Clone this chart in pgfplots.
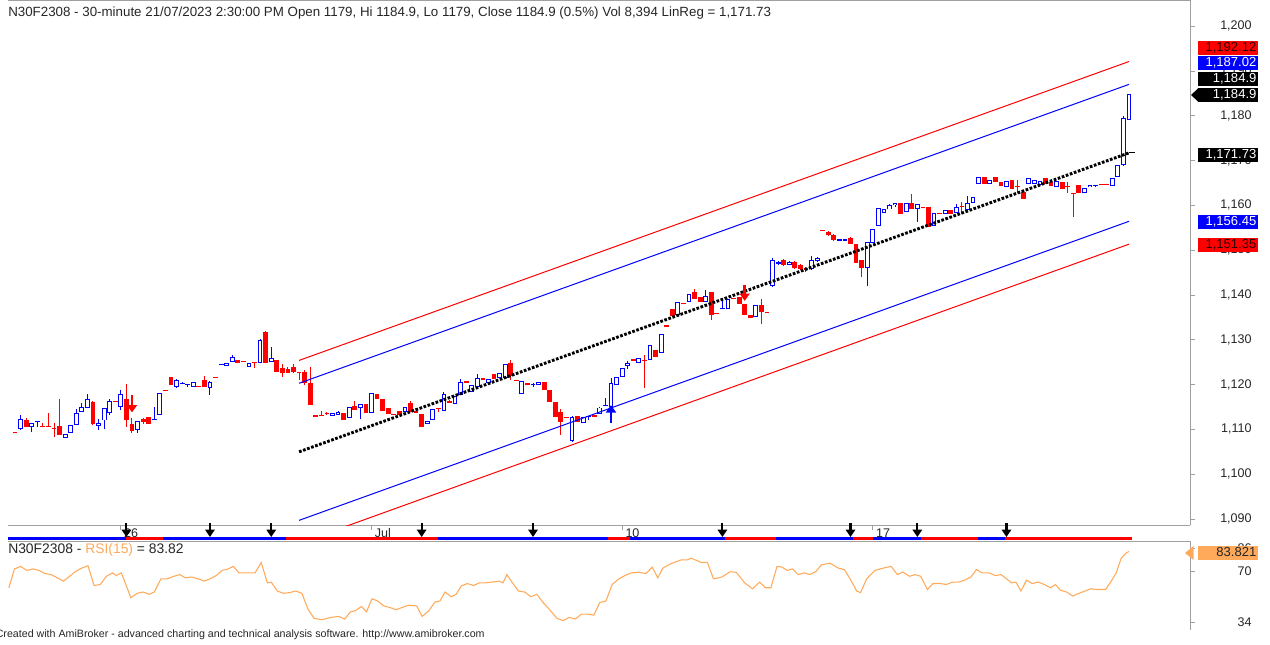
\documentclass[border=0pt]{standalone}
\usepackage{pgfplots}
\pgfplotsset{compat=1.18}
\usepackage{pgfplotstable}
\usepackage{fontspec}
\setmainfont{Liberation Sans}
\usetikzlibrary{arrows.meta}

\definecolor{cBlue}{RGB}{0,0,255}
\definecolor{cRed}{RGB}{255,0,0}
\definecolor{axgray}{RGB}{160,160,160}
\definecolor{rsiorange}{RGB}{255,170,90}

% i open high low close dir(1=up/blue,0=down/red)
\pgfplotstableread{
i o h l c d
0 1109.3 1109.4 1109.2 1109.3 0
1 1110.1 1113.2 1109.9 1112.3 1
2 1112.1 1112.5 1110.5 1110.6 0
3 1110.6 1111.5 1109.5 1111.4 1
4 1111.6 1111.9 1110.6 1111.9 1
5 1110.8 1111.4 1110.5 1110.5 0
6 1110.8 1113.6 1110.6 1110.7 0
7 1110.3 1111.4 1108.4 1110.2 0
8 1110.8 1116.7 1108.7 1108.8 0
9 1108.2 1108.9 1108.1 1108.9 1
10 1109.3 1111.0 1109.3 1111.0 1
11 1111.0 1114.5 1111.0 1113.7 1
12 1113.9 1115.8 1113.9 1114.9 1
13 1114.9 1118.0 1114.9 1116.8 1
14 1116.2 1116.3 1110.9 1111.2 0
15 1110.8 1112.3 1109.9 1111.4 1
16 1112.0 1114.7 1110.0 1114.7 1
17 1113.6 1116.7 1113.2 1116.4 1
18 1116.3 1116.3 1116.1 1116.2 0
19 1115.1 1118.9 1114.3 1117.9 1
20 1116.7 1120.1 1110.6 1112.1 0
21 1111.1 1112.5 1109.3 1109.7 0
22 1109.9 1111.9 1109.1 1111.9 1
23 1112.3 1112.5 1111.3 1111.7 0
24 1112.8 1112.8 1111.2 1111.2 0
25 1112.0 1115.1 1112.0 1112.3 1
26 1113.2 1118.2 1113.2 1118.2 1
27 1118.7 1118.7 1118.5 1118.6 0
28 1121.6 1121.6 1119.9 1119.9 0
29 1119.5 1121.2 1119.3 1121.0 1
30 1120.1 1120.6 1120.1 1120.2 1
31 1119.9 1120.1 1119.4 1120.1 1
32 1119.5 1120.6 1119.5 1120.6 1
33 1119.6 1119.6 1119.4 1119.5 0
34 1121.0 1121.9 1119.5 1119.5 0
35 1119.3 1120.7 1117.7 1120.5 1
36 1121.7 1121.7 1121.5 1121.6 0
37 1124.4 1124.6 1124.4 1124.5 1
38 1124.2 1124.9 1124.2 1124.9 1
39 1125.1 1126.7 1125.1 1126.1 1
40 1125.6 1125.6 1124.9 1124.9 0
41 1125.2 1125.2 1125.0 1125.1 0
42 1124.0 1124.9 1124.0 1124.9 1
43 1125.1 1125.1 1123.6 1124.9 0
44 1124.8 1130.2 1124.8 1130.0 1
45 1131.8 1131.9 1124.9 1124.9 0
46 1125.1 1128.5 1125.1 1125.9 1
47 1125.6 1125.6 1122.9 1122.9 0
48 1123.6 1124.5 1121.8 1122.5 0
49 1123.4 1124.0 1122.5 1122.7 0
50 1124.0 1124.5 1122.5 1122.9 0
51 1122.9 1122.9 1121.0 1122.5 0
52 1122.9 1123.3 1119.9 1120.3 0
53 1120.3 1124.0 1115.4 1115.4 0
54 1113.0 1113.1 1112.9 1113.0 0
55 1113.1 1114.0 1113.0 1113.0 0
56 1113.5 1113.9 1113.3 1113.4 0
57 1113.0 1113.6 1113.0 1113.6 1
58 1113.2 1114.0 1113.2 1114.0 1
59 1113.7 1113.7 1112.1 1112.1 0
60 1112.5 1114.9 1112.5 1114.9 1
61 1115.2 1116.3 1114.3 1114.3 0
62 1114.7 1115.7 1112.3 1115.7 1
63 1115.7 1115.7 1113.7 1113.7 0
64 1113.7 1118.1 1113.7 1118.1 1
65 1117.9 1117.9 1116.8 1116.8 0
66 1116.8 1116.8 1114.2 1114.2 0
67 1114.7 1114.7 1113.4 1113.4 0
68 1113.4 1113.5 1113.3 1113.4 0
69 1114.2 1114.2 1113.2 1113.2 0
70 1113.9 1114.9 1113.9 1114.9 1
71 1116.0 1116.3 1113.9 1113.9 0
72 1113.9 1114.0 1113.8 1113.9 0
73 1113.4 1113.4 1110.6 1110.6 0
74 1111.2 1111.9 1111.2 1111.9 1
75 1112.1 1114.5 1112.1 1114.5 1
76 1114.7 1114.7 1113.8 1114.5 0
77 1114.2 1118.4 1114.2 1117.9 1
78 1116.4 1116.6 1115.8 1115.8 0
79 1115.7 1117.4 1115.7 1117.4 1
80 1117.7 1121.2 1117.7 1120.6 1
81 1120.6 1120.7 1120.5 1120.6 0
82 1118.3 1119.9 1118.3 1119.9 1
83 1119.5 1122.3 1119.5 1121.4 1
84 1121.4 1121.5 1121.0 1121.0 0
85 1120.4 1121.2 1120.4 1121.2 1
86 1122.3 1122.3 1121.2 1121.2 0
87 1121.5 1122.5 1121.5 1122.5 1
88 1121.4 1124.6 1121.4 1124.6 1
89 1124.8 1125.5 1121.0 1121.9 0
90 1121.0 1121.0 1120.8 1120.9 0
91 1117.9 1120.9 1117.9 1120.9 1
92 1120.3 1120.3 1119.9 1119.9 0
93 1119.9 1120.3 1119.5 1120.0 1
94 1119.9 1120.6 1119.9 1120.6 1
95 1120.6 1120.6 1118.8 1118.8 0
96 1118.8 1118.8 1116.2 1116.2 0
97 1116.2 1116.2 1112.7 1112.7 0
98 1113.9 1114.6 1108.8 1111.7 0
99 1112.7 1112.8 1112.6 1112.7 0
100 1107.5 1112.9 1107.3 1112.7 1
101 1113.0 1113.0 1111.7 1111.7 0
102 1111.5 1112.8 1111.5 1112.8 1
103 1112.7 1113.0 1112.2 1113.0 1
104 1113.2 1113.2 1112.7 1112.7 0
105 1113.4 1114.9 1113.4 1114.9 1
106 1115.3 1117.0 1115.3 1115.5 1
107 1115.1 1121.5 1115.1 1120.3 1
108 1120.0 1121.6 1120.0 1121.6 1
109 1121.8 1123.7 1121.8 1123.7 1
110 1124.2 1125.2 1123.5 1124.9 1
111 1125.5 1125.6 1125.4 1125.5 0
112 1124.9 1125.9 1124.9 1125.9 1
113 1125.6 1126.6 1119.2 1125.3 0
114 1125.5 1128.9 1125.5 1128.9 1
115 1127.7 1127.7 1126.1 1126.1 0
116 1127.1 1131.3 1127.1 1131.3 1
117 1133.1 1133.2 1133.0 1133.1 0
118 1136.8 1136.8 1135.3 1135.3 0
119 1135.5 1138.5 1135.5 1138.5 1
120 1138.3 1138.3 1137.9 1137.9 0
121 1138.5 1140.2 1138.5 1140.2 1
122 1140.7 1141.3 1139.2 1139.2 0
123 1139.6 1139.6 1138.5 1138.5 0
124 1138.5 1141.1 1138.5 1139.8 1
125 1140.6 1140.6 1134.4 1135.5 0
126 1135.8 1135.9 1135.7 1135.8 0
127 1136.8 1139.0 1136.8 1137.0 1
128 1136.8 1139.0 1136.8 1139.0 1
129 1139.2 1139.3 1139.1 1139.2 0
130 1139.5 1139.5 1138.1 1138.1 0
131 1138.1 1138.1 1135.5 1135.5 0
132 1135.5 1135.5 1134.8 1134.8 0
133 1135.0 1137.8 1135.0 1137.8 1
134 1137.8 1139.2 1133.5 1136.1 0
135 1136.1 1136.2 1136.0 1136.1 0
136 1142.0 1148.2 1141.8 1147.8 1
137 1146.9 1147.6 1146.7 1147.3 1
138 1147.8 1148.0 1146.5 1146.7 0
139 1146.8 1147.5 1146.6 1147.3 1
140 1147.4 1147.5 1145.8 1146.0 0
141 1146.6 1147.0 1145.5 1145.8 0
142 1146.0 1146.2 1145.2 1145.7 0
143 1145.8 1148.8 1145.6 1147.9 1
144 1147.6 1148.4 1147.4 1148.2 1
145 1154.5 1154.6 1154.3 1154.4 0
146 1154.0 1154.2 1153.2 1153.4 0
147 1153.5 1153.6 1152.0 1152.3 0
148 1152.1 1152.6 1152.0 1152.5 1
149 1152.1 1152.6 1152.0 1152.5 1
150 1152.7 1152.9 1151.4 1151.4 0
151 1151.4 1151.4 1147.2 1147.2 0
152 1147.8 1147.8 1144.1 1146.0 0
153 1146.0 1151.9 1142.0 1151.9 1
154 1151.7 1154.7 1151.7 1154.7 1
155 1155.4 1159.4 1155.4 1159.4 1
156 1158.4 1159.1 1158.4 1159.1 1
157 1159.1 1160.4 1159.1 1160.1 1
158 1160.1 1160.6 1159.6 1160.6 1
159 1160.6 1160.6 1158.1 1158.1 0
160 1158.6 1160.6 1158.6 1160.6 1
161 1160.6 1162.5 1159.1 1159.1 0
162 1159.1 1160.3 1156.4 1160.3 1
163 1159.6 1159.7 1159.5 1159.6 0
164 1159.6 1159.6 1155.3 1155.3 0
165 1155.4 1158.4 1155.4 1158.4 1
166 1158.2 1158.3 1158.1 1158.2 0
167 1158.1 1158.9 1158.1 1158.9 1
168 1158.9 1158.9 1158.2 1158.2 0
169 1158.4 1160.3 1158.4 1159.7 1
170 1159.8 1160.7 1158.0 1159.6 0
171 1158.9 1162.0 1158.9 1160.5 1
172 1160.5 1161.8 1160.5 1161.8 1
173 1164.8 1166.3 1164.8 1166.3 1
174 1166.3 1166.3 1164.8 1164.8 0
175 1164.8 1165.7 1164.8 1165.7 1
176 1166.3 1166.3 1165.3 1165.3 0
177 1165.3 1165.3 1164.3 1164.3 0
178 1164.2 1165.5 1164.2 1165.5 1
179 1165.7 1165.7 1163.6 1163.6 0
180 1164.3 1165.7 1162.7 1164.2 0
181 1163.1 1163.1 1161.4 1161.4 0
182 1164.8 1166.1 1164.8 1166.1 1
183 1164.8 1165.7 1164.8 1165.7 1
184 1164.6 1165.5 1164.6 1165.5 1
185 1166.1 1166.1 1164.8 1164.8 0
186 1165.3 1165.3 1164.3 1164.3 0
187 1164.2 1165.5 1164.2 1165.5 1
188 1165.3 1165.3 1163.6 1163.6 0
189 1164.3 1165.3 1162.7 1164.2 0
190 1162.7 1162.8 1157.5 1162.5 0
191 1164.6 1164.6 1162.7 1162.7 0
192 1162.7 1163.9 1162.7 1163.9 1
193 1164.1 1164.6 1164.1 1164.6 1
194 1164.4 1164.6 1164.0 1164.6 1
195 1164.6 1164.7 1164.5 1164.6 0
196 1164.7 1164.7 1164.5 1164.6 0
197 1164.3 1166.1 1164.3 1166.1 1
198 1166.4 1169.0 1166.4 1169.0 1
199 1169.0 1180.0 1168.8 1179.4 1
200 1179.0 1184.9 1179.0 1184.9 1
}\ohlc

% red stretches of the bottom ribbon (bar units)
\pgfplotstableread{
a b
20 26.6
48.7 76
106.5 110.4
127.5 136.6
150.4 154
162.7 172.9
177.7 200.5
}\ribbonred

\begin{document}
\begin{tikzpicture}
\useasboundingbox (0,0) rectangle (952.5pt,-483pt);

% ---------------- main price pane ----------------
\begin{axis}[
  at={(6pt,0pt)}, anchor=north west,
  scale only axis, width=886.5pt, height=393.75pt,
  xmin=-1.26, xmax=210.95, ymin=1088.66, ymax=1205.85,
  axis x line=box, axis y line=right,
  axis line style={axgray, line width=0.75pt, -},
  tick style={axgray, line width=0.75pt},
  major tick length=3.75pt, tick align=outside,
  ytick={1090,1100,...,1200}, scaled y ticks=false,
  /pgf/number format/assume math mode=true,
  yticklabel style={/pgf/number format/1000 sep={,}, /pgf/number format/fixed,
     anchor=east, xshift=46pt, font=\fontsize{9.4}{11}\selectfont, text=black!85},
  xtick={19,64,109,154}, xticklabels={26,Jul,10,17},
  xtick pos=lower,
  xticklabel style={anchor=north west, xshift=-1pt, yshift=4.5pt, font=\fontsize{9.4}{11}\selectfont, text=black!85},
]
% wicks (segment from low to high)
\addplot[cRed, line width=0.75pt, mark=none, quiver={u=0, v={(1-\thisrow{d})*(\thisrow{h}-\thisrow{l})}}]
  table[x=i, y=l] {\ohlc};
\addplot[cBlue, line width=0.75pt, mark=none, quiver={u=0, v={\thisrow{d}*(\thisrow{h}-\thisrow{l})}}]
  table[x=i, y=l] {\ohlc};
% bodies (segment from open to close, at least one pixel tall)
\addplot[cRed, line width=3.6pt, mark=none, quiver={u=0, v={(1-\thisrow{d})*max(abs(\thisrow{c}-\thisrow{o}),0.24)}}]
  table[x=i, y expr={(\thisrow{o}+\thisrow{c})/2-max(abs(\thisrow{c}-\thisrow{o}),0.24)/2}] {\ohlc};
\addplot[cBlue, line width=3.6pt, mark=none, quiver={u=0, v={\thisrow{d}*max(abs(\thisrow{c}-\thisrow{o}),0.24)}}]
  table[x=i, y expr={(\thisrow{o}+\thisrow{c})/2-max(abs(\thisrow{c}-\thisrow{o}),0.24)/2}] {\ohlc};
% hollow inside of the up candles
\addplot[white, line width=2.1pt, mark=none, quiver={u=0, v={\thisrow{d}*max(abs(\thisrow{c}-\thisrow{o})-0.44,0)}}]
  table[x=i, y expr={(\thisrow{o}+\thisrow{c})/2-max(abs(\thisrow{c}-\thisrow{o})-0.44,0)/2}] {\ohlc};

% regression channel
\addplot[cRed, line width=0.75pt] coordinates {(51,1125.4) (200,1192.12)};
\addplot[cBlue, line width=0.75pt] coordinates {(51,1120.3) (200,1187.02)};
\addplot[cBlue, line width=0.75pt] coordinates {(51,1089.7) (200,1156.45)};
\addplot[cRed, line width=0.75pt] coordinates {(51,1084.6) (200,1151.35)};
\addplot[black, line width=2.2pt, dash pattern=on 2pt off 1.2pt] coordinates {(51,1105.0) (200,1171.73)};
\addplot[black, line width=0.75pt] coordinates {(200,1171.73) (201,1171.73)};

% buy / sell arrows
\addplot[cRed, line width=2.2pt, -{Triangle[width=7.5pt,length=5.5pt]}, quiver={u=0,v=-3.8}] coordinates {(21,1117.6)};
\addplot[cRed, line width=2.2pt, -{Triangle[width=7.5pt,length=5.5pt]}, quiver={u=0,v=-3.6}] coordinates {(131,1142.3)};
\addplot[cBlue, line width=2.2pt, -{Triangle[width=7.5pt,length=5.5pt]}, quiver={u=0,v=3.9}] coordinates {(107,1111.5)};
\end{axis}

% ---------------- ribbon strip ----------------
\begin{axis}[
  at={(6pt,-393.75pt)}, anchor=north west,
  scale only axis, width=886.5pt, height=12pt,
  xmin=-1.26, xmax=210.95, ymin=0, ymax=16,
  hide axis, clip=false,
]
\addplot[cBlue, line width=2.3pt] coordinates {(-1.3,2.3) (200.5,2.3)};
\addplot[cRed, line width=2.3pt, mark=none, quiver={u={\thisrow{b}-\thisrow{a}}, v=0}]
  table[x=a, y expr={2.3}] {\ribbonred};
\addplot[black, line width=1.6pt, -{Triangle[width=7pt,length=5.5pt]}, quiver={u=0,v=-14}]
  coordinates {(20,18) (35,18) (46,18) (73,18) (93,18) (127,18) (150,18) (162,18) (178,18)};
\end{axis}

% ---------------- RSI pane ----------------
\begin{axis}[
  at={(6pt,-405.75pt)}, anchor=north west,
  scale only axis, width=886.5pt, height=66.75pt,
  xmin=-1.26, xmax=210.95, ymin=28.4, ymax=91.2,
  axis x line=top, axis y line=right,
  axis line style={axgray, line width=0.75pt, -},
  tick style={axgray, line width=0.75pt},
  major tick length=3.75pt, tick align=outside,
  xtick=\empty, ytick={34,70,86},
  /pgf/number format/assume math mode=true,
  yticklabel style={anchor=east, xshift=46pt, font=\fontsize{9.4}{11}\selectfont, text=black!85},
]
\addplot[rsiorange, line width=0.8pt] coordinates {
(-1.1,58.2)(-0.1,71.5)(1.0,73.3)(2.1,70.5)(3.2,71.5)(4.3,70.5)(5.4,68.2)(6.5,67.5)(7.6,65.2)(8.7,62.9)
(9.8,66.3)(10.9,69.8)(12.0,72.1)(13.1,73.8)(14.2,59.8)(15.3,60.5)(16.4,66.3)(17.5,68.7)(18.2,66.8)(19.1,68.7)
(20.8,51.2)(21.9,54.3)(23.0,55.2)(24.1,53.6)(25.0,55.2)(26.2,64.5)(27.3,64.5)(28.5,66.3)(29.6,67.5)(30.6,65.2)
(31.7,65.8)(32.9,64.5)(34.0,62.9)(35.0,64.5)(36.1,66.8)(37.2,70.5)(38.3,71.5)(39.2,73.3)(40.2,68.7)(41.3,68.7)
(43.1,68.7)(44.2,76.1)(45.3,61.7)(46.0,62.2)(47.1,55.9)(48.2,54.3)(49.3,54.8)(50.4,55.9)(51.5,54.3)(52.6,43.1)
(53.7,36.6)(55.2,35.7)(56.7,37.3)(58.1,38.0)(59.2,36.1)(60.2,41.2)(61.1,42.0)(62.2,45.0)(63.1,41.2)(64.1,50.5)
(65.1,48.9)(66.2,45.4)(67.3,44.3)(68.4,42.7)(69.5,44.3)(70.6,45.9)(72.1,45.4)(73.1,38.0)(74.3,42.0)(75.4,48.2)
(76.3,48.9)(77.2,55.2)(78.3,51.9)(79.2,53.6)(80.1,59.4)(81.2,61.2)(82.3,59.8)(83.4,61.7)(84.5,61.7)(85.6,62.2)
(86.9,62.9)(87.6,61.7)(88.3,67.5)(89.3,61.7)(90.4,55.9)(91.5,55.2)(92.6,51.9)(93.7,53.6)(94.8,47.8)(95.9,43.1)
(97.3,36.6)(98.4,35.0)(99.5,37.3)(100.6,36.1)(101.7,39.6)(102.8,39.6)(103.9,38.9)(105.0,47.8)(106.1,48.9)(107.2,60.5)
(108.4,64.5)(109.5,66.8)(110.6,68.7)(112.0,69.2)(113.3,68.2)(114.4,72.8)(115.4,65.2)(116.3,72.1)(117.7,75.1)(119.6,77.9)
(120.7,77.9)(121.4,79.1)(123.2,76.1)(124.3,76.1)(125.4,64.5)(126.9,65.8)(128.4,69.5)(129.5,69.1)(131.0,61.7)(132.4,57.5)
(133.7,62.2)(134.7,58.2)(135.7,58.2)(136.8,73.3)(137.7,72.8)(138.6,70.5)(139.6,71.5)(140.6,67.5)(141.6,68.7)(142.7,67.5)
(143.8,69.8)(144.8,74.4)(146.3,75.6)(147.8,72.1)(148.9,71.0)(150.0,64.1)(151.1,55.9)(151.8,54.8)(152.9,64.5)(154.4,70.5)
(155.9,72.1)(157.3,73.3)(158.4,67.5)(159.4,69.3)(160.6,66.3)(161.6,67.5)(162.6,66.3)(163.8,57.0)(164.8,61.2)(166.1,61.2)
(167.2,60.5)(168.3,62.2)(169.4,62.2)(170.5,63.6)(171.6,65.8)(172.6,71.0)(173.6,68.7)(174.9,68.7)(176.0,66.8)(177.0,67.5)
(177.8,65.2)(178.9,61.7)(179.7,62.2)(180.6,55.9)(181.6,63.6)(182.6,61.2)(183.7,62.2)(184.8,60.5)(185.9,58.2)(186.8,60.5)
(187.7,56.4)(188.8,55.2)(189.9,52.4)(191.0,54.3)(192.1,55.9)(193.1,57.5)(194.3,57.0)(195.8,57.0)(196.8,62.9)(197.7,68.7)
(198.6,79.1)(199.6,83.0)(200,83.82)};
\end{axis}

% ---------------- texts and value tags (pixel grid) ----------------
\begin{scope}[x=0.75pt, y=-0.75pt, every node/.style={font=\fontsize{10}{12}\selectfont, inner sep=0pt}]
\node[anchor=west, text=black!85] at (8,13) {N30F2308 - 30-minute 21/07/2023 2:30:00 PM Open 1179, Hi 1184.9, Lo 1179, Close 1184.9 (0.5\%) Vol 8,394 LinReg = 1,171.73};
\node[anchor=west, text=black!85, font=\fontsize{10.4}{12}\selectfont] at (8,550) {N30F2308 - \textcolor{rsiorange}{RSI(15)} = 83.82};
\node[anchor=west, text=black!85, font=\fontsize{8}{10}\selectfont] at (-4.5,635) {Created with AmiBroker - advanced charting and technical analysis software. http://www.amibroker.com};

\tikzset{tag/.style={anchor=east, text width=43pt, align=right, inner xsep=1pt, minimum height=10.5pt, text height=6.8pt, text depth=1.6pt, font=\fontsize{9.8}{11}\selectfont}}
\node[tag, fill=cRed, text=black!80!red] at (1258,48) {1,192.12};
\node[tag, fill=cBlue, text=white] at (1258,63) {1,187.02};
\node[tag, fill=black, text=white] at (1258,79) {1,184.9};
\node[tag, fill=black, text=white] at (1258,95) {1,184.9};
\fill[black] (1191,95) -- (1198.5,88) -- (1198.5,102) -- cycle;
\node[tag, fill=black, text=white] at (1258,155) {1,171.73};
\node[tag, fill=cBlue, text=white] at (1258,222) {1,156.45};
\node[tag, fill=cRed, text=black!80!red] at (1258,245) {1,151.35};
\node[tag, fill=rsiorange, text=black!85] at (1258,553) {83.821};
\fill[rsiorange] (1185,553) -- (1193.5,546) -- (1193.5,560) -- cycle;
\end{scope}
\end{tikzpicture}
\end{document}
